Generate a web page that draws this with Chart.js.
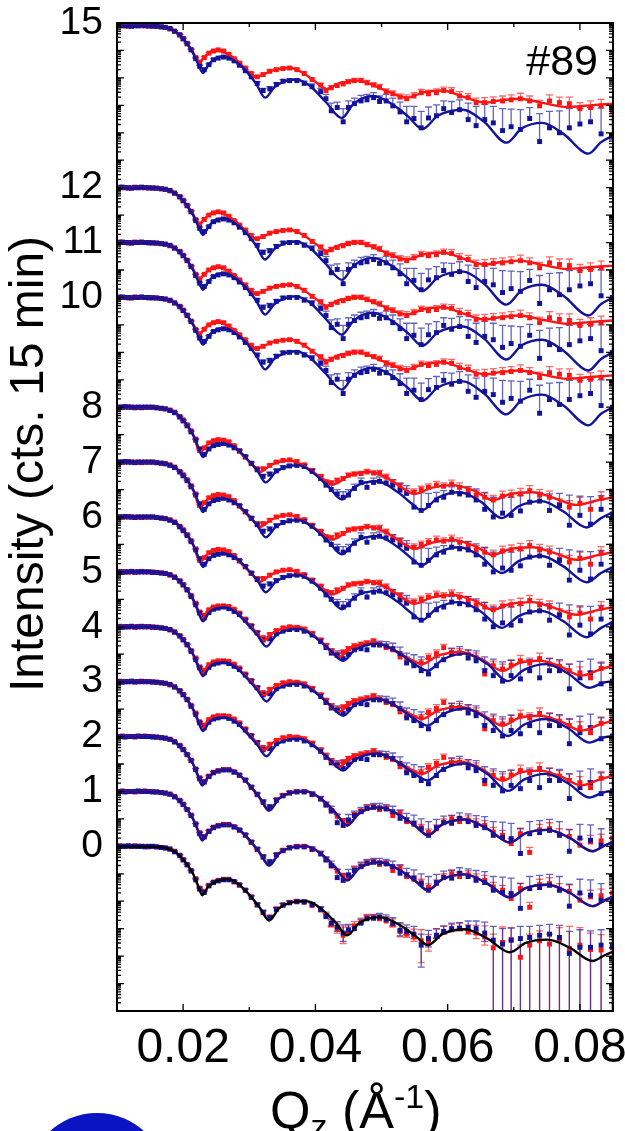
<!DOCTYPE html>
<html>
<head>
<meta charset="utf-8">
<script src="https://cdn.jsdelivr.net/npm/chart.js@4.4.1/dist/chart.umd.min.js"></script>
<style>
  html, body { margin: 0; padding: 0; background: #fff; }
  #contenedor { width: 625px; height: 1131px; }
</style>
</head>
<body>
<div id="contenedor"><canvas id="grafica" width="625" height="1131"></canvas></div>
<script>
// Vector Qz (Å^-1) común a todas las mediciones
const qz = [
  0.0100, 0.0104, 0.0108, 0.0112, 0.0117, 0.0122, 0.0127, 0.0132, 0.0137, 0.0142,
  0.0148, 0.0154, 0.0160, 0.0167, 0.0173, 0.0180, 0.0187, 0.0195, 0.0200, 0.0206,
  0.0212, 0.0219, 0.0225, 0.0232, 0.0239, 0.0246, 0.0253, 0.0261, 0.0269, 0.0277,
  0.0285, 0.0294, 0.0303, 0.0312, 0.0321, 0.0331, 0.0341, 0.0351, 0.0361, 0.0372,
  0.0383, 0.0395, 0.0408, 0.0416, 0.0424, 0.0433, 0.0442, 0.0450, 0.0459, 0.0469,
  0.0478, 0.0488, 0.0497, 0.0507, 0.0517, 0.0528, 0.0538, 0.0549, 0.0560, 0.0571,
  0.0583, 0.0594, 0.0606, 0.0618, 0.0631, 0.0643, 0.0656, 0.0669, 0.0683, 0.0696,
  0.0710, 0.0724, 0.0739, 0.0754, 0.0769, 0.0784, 0.0800, 0.0816, 0.0832, 0.0849
];

// desplazamiento vertical de cada curva y el tipo de datos que usa
const desplazamientos = [14.95, 12, 11, 10, 8, 7, 6, 5, 4, 3, 2, 1, 0];
const tiposCurva = ["A", "A", "A", "A", "B", "B", "B", "C", "C", "C", "D", "D", "E"];

const etiquetasX = [0.02, 0.04, 0.06, 0.08];
const etiquetasY = [15, 12, 11, 10, 8, 7, 6, 5, 4, 3, 2, 1, 0];

// ---- puntos medidos (log, relativo a la meseta) ----
const puntosRojoA = [
  0, 0.01, 0, 0, -0.01, 0, 0.01, 0, 0, 0,
  -0.01, 0, -0.01, -0.02, -0.03, -0.06, -0.10, -0.16, -0.23, -0.32,
  -0.43, -0.58, -0.66, -0.58, -0.50, -0.46, -0.44, -0.46, -0.52, -0.60,
  -0.68, -0.77, -0.87, -0.93, -0.89, -0.83, -0.80, -0.78, -0.77, -0.80,
  -0.87, -0.98, -1.08, -1.18, -1.13, -1.09, -1.06, -1.02, -1.00, -1.00,
  -1.04, -1.08, -1.12, -1.20, -1.24, -1.30, -1.33, -1.28, -1.22, -1.24,
  -1.22, -1.18, -1.20, -1.28, -1.31, -1.40, -1.40, -1.38, -1.37, -1.35,
  -1.33, -1.37, -1.46, -1.37, -1.40, -1.42, -1.51, -1.49, -1.46, -1.55
];
const puntosAzulA = [
  0, 0, 0.01, 0, 0, -0.01, 0, 0, 0.01, 0,
  0, -0.01, -0.01, -0.02, -0.03, -0.05, -0.10, -0.17, -0.24, -0.33,
  -0.44, -0.60, -0.74, -0.80, -0.71, -0.62, -0.59, -0.57, -0.59, -0.64,
  -0.72, -0.82, -0.93, -1.05, -1.18, -1.15, -1.07, -1.01, -1.00, -1.00,
  -1.05, -1.11, -1.20, -1.33, -1.55, -1.49, -1.75, -1.49, -1.42, -1.37,
  -1.35, -1.31, -1.38, -1.37, -1.46, -1.57, -1.75, -1.69, -1.86, -1.68,
  -1.64, -1.51, -1.58, -1.53, -1.71, -1.82, -1.71, -1.77, -1.91, -1.84,
  -1.89, -1.69, -2.11, -1.86, -1.95, -1.86, -1.79, -1.75, -1.97, -2.00
];
const puntosRojoB = [
  0, 0, 0, 0, 0.01, 0, 0, 0, -0.01, 0,
  0, 0, -0.01, -0.02, -0.03, -0.05, -0.09, -0.17, -0.23, -0.32,
  -0.43, -0.58, -0.79, -0.74, -0.65, -0.61, -0.59, -0.60, -0.63, -0.70,
  -0.79, -0.91, -1.03, -1.12, -1.12, -1.06, -1.00, -0.97, -0.96, -0.99,
  -1.05, -1.15, -1.26, -1.36, -1.38, -1.33, -1.30, -1.24, -1.22, -1.21,
  -1.18, -1.20, -1.20, -1.27, -1.38, -1.44, -1.55, -1.55, -1.50, -1.46,
  -1.42, -1.44, -1.40, -1.46, -1.52, -1.60, -1.64, -1.69, -1.62, -1.60,
  -1.58, -1.52, -1.60, -1.64, -1.77, -1.82, -1.75, -1.86, -1.66, -1.62
];
const puntosAzulB = [
  0, 0, 0, 0.01, 0, 0, -0.01, 0, 0, 0,
  0, 0, -0.01, -0.02, -0.03, -0.06, -0.10, -0.18, -0.25, -0.34,
  -0.45, -0.60, -0.76, -0.86, -0.76, -0.70, -0.68, -0.66, -0.69, -0.74,
  -0.80, -0.90, -1.02, -1.14, -1.26, -1.22, -1.16, -1.10, -1.07, -1.06,
  -1.08, -1.17, -1.30, -1.42, -1.50, -1.58, -1.64, -1.60, -1.48, -1.37,
  -1.46, -1.37, -1.35, -1.38, -1.42, -1.51, -1.57, -1.82, -1.88, -1.79,
  -1.69, -1.64, -1.55, -1.58, -1.60, -1.69, -1.86, -2.00, -1.93, -1.97,
  -1.89, -1.73, -1.71, -1.88, -1.79, -2.15, -1.97, -2.13, -1.86, -1.95
];
const puntosRojoC = [
  0, 0.01, 0, 0, 0, 0, -0.01, 0, 0.01, 0,
  0, 0, -0.01, -0.02, -0.03, -0.06, -0.09, -0.16, -0.23, -0.32,
  -0.43, -0.57, -0.73, -0.79, -0.69, -0.64, -0.62, -0.62, -0.63, -0.68,
  -0.75, -0.86, -0.98, -1.11, -1.20, -1.14, -1.07, -1.02, -1.00, -1.01,
  -1.04, -1.12, -1.24, -1.34, -1.44, -1.50, -1.46, -1.40, -1.35, -1.32,
  -1.30, -1.26, -1.33, -1.38, -1.42, -1.55, -1.62, -1.68, -1.66, -1.56,
  -1.49, -1.38, -1.47, -1.48, -1.50, -1.56, -1.86, -1.71, -1.77, -1.70,
  -1.62, -1.66, -1.58, -1.68, -1.72, -1.80, -1.84, -1.93, -1.76, -1.68
];
const puntosAzulC = [
  0, 0, -0.01, 0, 0, 0.01, 0, 0, 0, 0,
  0, -0.01, -0.01, -0.02, -0.03, -0.05, -0.10, -0.17, -0.24, -0.33,
  -0.45, -0.60, -0.75, -0.84, -0.74, -0.68, -0.66, -0.64, -0.67, -0.72,
  -0.78, -0.88, -0.99, -1.11, -1.24, -1.22, -1.13, -1.08, -1.05, -1.05,
  -1.08, -1.15, -1.27, -1.38, -1.48, -1.52, -1.58, -1.50, -1.42, -1.40,
  -1.42, -1.33, -1.33, -1.35, -1.40, -1.49, -1.66, -1.71, -1.80, -1.86,
  -1.71, -1.60, -1.49, -1.48, -1.57, -1.62, -1.80, -1.89, -1.99, -1.89,
  -1.95, -1.80, -1.93, -1.80, -1.80, -2.13, -1.93, -1.84, -2.04, -1.99
];
const puntosRojoD = [
  0, 0, 0.01, 0, 0, 0, -0.01, 0, 0, 0.01,
  0, 0, -0.01, -0.02, -0.03, -0.05, -0.09, -0.16, -0.23, -0.33,
  -0.43, -0.59, -0.75, -0.82, -0.72, -0.65, -0.62, -0.60, -0.60, -0.64,
  -0.71, -0.80, -0.93, -1.06, -1.20, -1.30, -1.15, -1.07, -1.02, -1.00,
  -1.00, -1.06, -1.13, -1.24, -1.36, -1.45, -1.53, -1.55, -1.42, -1.36,
  -1.30, -1.28, -1.33, -1.31, -1.44, -1.40, -1.55, -1.60, -1.66, -1.75,
  -1.68, -1.56, -1.50, -1.55, -1.52, -1.58, -1.62, -1.74, -1.80, -1.95,
  -1.77, -2.11, -1.70, -1.68, -1.78, -1.82, -1.98, -1.92, -1.90, -1.85
];
const puntosAzulD = [
  0, 0, 0, -0.01, 0, 0, 0, 0.01, 0, 0,
  0, -0.01, -0.01, -0.02, -0.03, -0.05, -0.10, -0.17, -0.24, -0.33,
  -0.44, -0.60, -0.77, -0.83, -0.73, -0.66, -0.63, -0.61, -0.61, -0.65,
  -0.70, -0.79, -0.92, -1.05, -1.19, -1.28, -1.16, -1.08, -1.03, -1.01,
  -1.01, -1.05, -1.14, -1.25, -1.35, -1.57, -1.62, -1.52, -1.44, -1.37,
  -1.31, -1.29, -1.30, -1.32, -1.37, -1.49, -1.52, -1.58, -1.68, -1.80,
  -1.66, -1.57, -1.58, -1.49, -1.55, -1.62, -1.66, -1.80, -1.84, -1.86,
  -2.13, -1.77, -1.75, -1.71, -1.80, -2.09, -1.85, -1.89, -1.98, -1.95
];
const puntosRojoE = [
  0, 0.01, 0, 0, 0, 0, 0.01, 0, 0, 0,
  -0.01, 0, -0.01, -0.02, -0.03, -0.05, -0.09, -0.16, -0.24, -0.33,
  -0.44, -0.59, -0.76, -0.82, -0.71, -0.65, -0.62, -0.60, -0.60, -0.65,
  -0.71, -0.80, -0.92, -1.06, -1.21, -1.29, -1.14, -1.07, -1.02, -1.00,
  -1.02, -1.08, -1.16, -1.26, -1.42, -1.50, -1.62, -1.55, -1.45, -1.38,
  -1.30, -1.30, -1.32, -1.36, -1.42, -1.55, -1.60, -1.65, -1.72, -1.76,
  -1.63, -1.56, -1.52, -1.50, -1.55, -1.58, -1.65, -1.85, -1.75, -1.70,
  -2.02, -1.80, -1.72, -1.78, -1.70, -1.86, -1.80, -1.88, -1.89, -1.85
];
const puntosAzulE = [
  0, 0, 0, 0, 0.01, 0, 0, 0, 0, -0.01,
  0, 0, -0.01, -0.02, -0.03, -0.05, -0.10, -0.17, -0.25, -0.34,
  -0.45, -0.61, -0.78, -0.84, -0.72, -0.66, -0.63, -0.61, -0.61, -0.64,
  -0.70, -0.80, -0.93, -1.07, -1.20, -1.30, -1.15, -1.07, -1.03, -1.01,
  -1.01, -1.06, -1.15, -1.28, -1.40, -1.47, -1.58, -1.52, -1.50, -1.40,
  -1.32, -1.31, -1.29, -1.33, -1.40, -1.53, -1.55, -1.60, -1.80, -1.68,
  -1.62, -1.55, -1.50, -1.49, -1.48, -1.50, -1.58, -1.71, -1.78, -1.71,
  -1.68, -1.66, -1.62, -1.60, -1.66, -1.95, -1.84, -1.84, -1.80, -1.82
];

// ---- barras de error (hacia arriba / hacia abajo) ----
const errRojo = [
  0.01, 0.01, 0.01, 0.01, 0.01, 0.01, 0.01, 0.01, 0.01, 0.01,
  0.01, 0.01, 0.01, 0.01, 0.01, 0.01, 0.01, 0.01, 0.01, 0.01,
  0.01, 0.01, 0.015, 0.015, 0.015, 0.01, 0.01, 0.015, 0.015, 0.015,
  0.015, 0.02, 0.02, 0.02, 0.025, 0.025, 0.02, 0.02, 0.02, 0.025,
  0.025, 0.03, 0.03, 0.035, 0.04, 0.035, 0.035, 0.04, 0.04, 0.04,
  0.045, 0.04, 0.05, 0.05, 0.055, 0.06, 0.07, 0.06, 0.06, 0.065,
  0.07, 0.06, 0.07, 0.08, 0.075, 0.08, 0.09, 0.085, 0.09, 0.09,
  0.10, 0.09, 0.10, 0.11, 0.10, 0.12, 0.11, 0.12, 0.12, 0.13
];
const errAzulA = [
  0.01, 0.01, 0.01, 0.01, 0.01, 0.01, 0.01, 0.01, 0.01, 0.01,
  0.01, 0.01, 0.01, 0.01, 0.01, 0.01, 0.01, 0.01, 0.01, 0.01,
  0.01, 0.015, 0.02, 0.02, 0.015, 0.015, 0.015, 0.015, 0.015, 0.02,
  0.02, 0.02, 0.025, 0.03, 0.04, 0.04, 0.03, 0.03, 0.03, 0.03,
  0.04, 0.05, 0.06, 0.08, 0.14, 0.10, 0.24, 0.12, 0.10, 0.10,
  0.10, 0.09, 0.10, 0.12, 0.14, 0.18, 0.28, 0.22, 0.30, 0.20,
  0.20, 0.14, 0.20, 0.18, 0.30, 0.35, 0.28, 0.30, 0.40, 0.32,
  0.36, 0.20, 0.51, 0.30, 0.40, 0.35, 0.28, 0.26, 0.47, 0.40
];
const errAzulB = [
  0.01, 0.01, 0.01, 0.01, 0.01, 0.01, 0.01, 0.01, 0.01, 0.01,
  0.01, 0.01, 0.01, 0.01, 0.01, 0.01, 0.01, 0.01, 0.01, 0.01,
  0.01, 0.015, 0.02, 0.02, 0.015, 0.015, 0.015, 0.015, 0.015, 0.02,
  0.02, 0.02, 0.025, 0.03, 0.035, 0.035, 0.03, 0.03, 0.03, 0.03,
  0.03, 0.04, 0.05, 0.06, 0.08, 0.08, 0.10, 0.10, 0.08, 0.08,
  0.10, 0.08, 0.08, 0.10, 0.10, 0.12, 0.14, 0.30, 0.32, 0.22,
  0.14, 0.12, 0.10, 0.14, 0.15, 0.20, 0.30, 0.36, 0.30, 0.33,
  0.28, 0.18, 0.16, 0.30, 0.22, 0.55, 0.35, 0.50, 0.25, 0.30
];
const errAzulC = [
  0.01, 0.01, 0.01, 0.01, 0.01, 0.01, 0.01, 0.01, 0.01, 0.01,
  0.01, 0.01, 0.01, 0.01, 0.01, 0.01, 0.01, 0.01, 0.01, 0.01,
  0.01, 0.015, 0.02, 0.02, 0.015, 0.015, 0.015, 0.015, 0.015, 0.02,
  0.02, 0.02, 0.025, 0.03, 0.035, 0.035, 0.03, 0.03, 0.03, 0.03,
  0.03, 0.04, 0.05, 0.06, 0.07, 0.08, 0.10, 0.08, 0.07, 0.08,
  0.10, 0.07, 0.07, 0.08, 0.10, 0.12, 0.18, 0.20, 0.25, 0.28,
  0.15, 0.10, 0.10, 0.12, 0.15, 0.18, 0.25, 0.30, 0.35, 0.28,
  0.30, 0.20, 0.30, 0.22, 0.20, 0.45, 0.30, 0.25, 0.38, 0.30
];
const errAzulD = [
  0.01, 0.01, 0.01, 0.01, 0.01, 0.01, 0.01, 0.01, 0.01, 0.01,
  0.01, 0.01, 0.01, 0.01, 0.01, 0.01, 0.01, 0.01, 0.01, 0.01,
  0.01, 0.015, 0.02, 0.02, 0.015, 0.015, 0.015, 0.015, 0.015, 0.02,
  0.02, 0.02, 0.025, 0.03, 0.035, 0.035, 0.03, 0.03, 0.03, 0.03,
  0.03, 0.04, 0.05, 0.06, 0.08, 0.15, 0.12, 0.10, 0.08, 0.08,
  0.07, 0.07, 0.08, 0.08, 0.10, 0.15, 0.12, 0.15, 0.18, 0.25,
  0.15, 0.12, 0.14, 0.10, 0.14, 0.18, 0.20, 0.25, 0.28, 0.28,
  0.45, 0.22, 0.22, 0.20, 0.25, 0.40, 0.25, 0.28, 0.30, 0.28
];
const errE = [
  0.01, 0.01, 0.01, 0.01, 0.01, 0.01, 0.01, 0.01, 0.01, 0.01,
  0.01, 0.01, 0.01, 0.01, 0.01, 0.01, 0.01, 0.01, 0.01, 0.01,
  0.01, 0.015, 0.02, 0.02, 0.015, 0.015, 0.015, 0.015, 0.015, 0.02,
  0.02, 0.02, 0.025, 0.03, 0.035, 0.035, 0.03, 0.03, 0.03, 0.03,
  0.03, 0.04, 0.05, 0.06, 0.08, 0.10, 0.15, 0.10, 0.08, 0.07,
  0.06, 0.06, 0.07, 0.08, 0.10, 0.14, 0.12, 0.14, 0.20, 0.15,
  0.12, 0.10, 0.10, 0.10, 0.12, 0.14, 0.20, 0.25, 0.28, 0.22,
  0.22, 0.20, 0.18, 0.18, 0.22, 0.40, 0.32, 0.30, 0.28, 0.30
];
// en la curva inferior las barras de Qz alto bajan fuera del eje
const bajoE = [
  0, 0, 0, 0, 0, 0, 0, 0, 0, 0,
  0, 0, 0, 0, 0, 0, 0, 0, 0, 0,
  0, 0, 0, 0, 0, 0, 0, 0, 0, 0,
  0, 0, 0, 0, 0, 0, 0, 0, 0, 0,
  0, 0, 0, 0, 0.05, 0.08, 0.15, 0.05, 0, 0,
  0, 0, 0, 0, 0.05, 0.10, 0.06, 0.08, 0.40, 0.15,
  0.05, 0.04, 0.03, 0.04, 0.05, 0.10, 0.15, 9, 9, 9,
  9, 9, 9, 9, 9, 9, 9, 9, 9, 9
];

// ---- curvas de ajuste [Qz, valor] ----
const ajusteRojoA = [
  [0.0100, 0], [0.0150, -0.005], [0.0165, -0.015], [0.0175, -0.035], [0.0185, -0.08], [0.0195, -0.17],
  [0.0205, -0.31], [0.0215, -0.48], [0.0224, -0.67], [0.0232, -0.57], [0.0240, -0.49], [0.0251, -0.45],
  [0.0265, -0.50], [0.0280, -0.62], [0.0295, -0.80], [0.0310, -0.94], [0.0322, -0.88], [0.0340, -0.80],
  [0.0362, -0.77], [0.0380, -0.85], [0.0400, -1.02], [0.0417, -1.15], [0.0435, -1.05], [0.0464, -1.00],
  [0.0500, -1.15], [0.0538, -1.31], [0.0565, -1.21], [0.0592, -1.18], [0.0625, -1.30], [0.0656, -1.40],
  [0.0680, -1.36], [0.0709, -1.33], [0.0745, -1.41], [0.0780, -1.48], [0.0815, -1.45], [0.0850, -1.42]
];
const ajusteAzulA = [
  [0.0100, 0], [0.0150, -0.005], [0.0165, -0.015], [0.0175, -0.035], [0.0185, -0.08], [0.0195, -0.17],
  [0.0205, -0.31], [0.0215, -0.50], [0.0222, -0.68], [0.0230, -0.86], [0.0238, -0.71], [0.0248, -0.60],
  [0.0260, -0.56], [0.0275, -0.62], [0.0292, -0.78], [0.0310, -1.05], [0.0324, -1.31], [0.0338, -1.12],
  [0.0355, -1.01], [0.0370, -0.98], [0.0390, -1.08], [0.0415, -1.38], [0.0440, -1.68], [0.0458, -1.42],
  [0.0487, -1.28], [0.0515, -1.42], [0.0540, -1.65], [0.0562, -1.88], [0.0585, -1.64], [0.0623, -1.53],
  [0.0655, -1.75], [0.0689, -2.13], [0.0712, -1.87], [0.0743, -1.77], [0.0775, -1.97], [0.0813, -2.33],
  [0.0832, -2.12], [0.0850, -2.00]
];
const ajusteRojoB = [
  [0.0100, 0], [0.0150, -0.005], [0.0165, -0.015], [0.0175, -0.035], [0.0185, -0.08], [0.0195, -0.17],
  [0.0205, -0.31], [0.0215, -0.50], [0.0226, -0.82], [0.0234, -0.71], [0.0245, -0.62], [0.0256, -0.60],
  [0.0270, -0.65], [0.0288, -0.85], [0.0305, -1.05], [0.0316, -1.18], [0.0333, -1.05], [0.0350, -0.98],
  [0.0361, -0.97], [0.0380, -1.05], [0.0405, -1.25], [0.0428, -1.40], [0.0450, -1.25], [0.0482, -1.18],
  [0.0510, -1.30], [0.0535, -1.50], [0.0550, -1.58], [0.0575, -1.47], [0.0606, -1.42], [0.0640, -1.52],
  [0.0668, -1.69], [0.0695, -1.58], [0.0728, -1.55], [0.0760, -1.65], [0.0795, -1.78], [0.0825, -1.70],
  [0.0850, -1.64]
];
const ajusteAzulB = [
  [0.0100, 0], [0.0150, -0.005], [0.0165, -0.015], [0.0175, -0.035], [0.0185, -0.08], [0.0195, -0.17],
  [0.0205, -0.31], [0.0215, -0.50], [0.0222, -0.70], [0.0230, -0.91], [0.0238, -0.77], [0.0250, -0.68],
  [0.0263, -0.67], [0.0278, -0.73], [0.0295, -0.92], [0.0312, -1.15], [0.0325, -1.37], [0.0340, -1.18],
  [0.0358, -1.08], [0.0375, -1.06], [0.0395, -1.18], [0.0420, -1.45], [0.0440, -1.68], [0.0460, -1.45],
  [0.0493, -1.35], [0.0525, -1.55], [0.0545, -1.75], [0.0561, -1.88], [0.0585, -1.65], [0.0618, -1.55],
  [0.0650, -1.72], [0.0682, -2.02], [0.0708, -1.80], [0.0742, -1.71], [0.0775, -1.90], [0.0810, -2.19],
  [0.0832, -2.02], [0.0850, -1.91]
];
const ajusteRojoC = [
  [0.0100, 0], [0.0150, -0.005], [0.0165, -0.015], [0.0175, -0.035], [0.0185, -0.08], [0.0195, -0.17],
  [0.0205, -0.31], [0.0215, -0.50], [0.0222, -0.68], [0.0229, -0.85], [0.0237, -0.72], [0.0250, -0.63],
  [0.0260, -0.62], [0.0275, -0.68], [0.0295, -0.90], [0.0312, -1.12], [0.0322, -1.25], [0.0337, -1.10],
  [0.0355, -1.02], [0.0372, -1.00], [0.0392, -1.10], [0.0415, -1.35], [0.0435, -1.55], [0.0455, -1.38],
  [0.0490, -1.29], [0.0520, -1.43], [0.0545, -1.60], [0.0561, -1.68], [0.0585, -1.53], [0.0618, -1.46],
  [0.0650, -1.58], [0.0683, -1.80], [0.0708, -1.66], [0.0739, -1.62], [0.0770, -1.72], [0.0802, -1.89],
  [0.0830, -1.78], [0.0850, -1.71]
];
const ajusteAzulC = [
  [0.0100, 0], [0.0150, -0.005], [0.0165, -0.015], [0.0175, -0.035], [0.0185, -0.08], [0.0195, -0.17],
  [0.0205, -0.31], [0.0215, -0.50], [0.0222, -0.70], [0.0230, -0.90], [0.0238, -0.76], [0.0250, -0.66],
  [0.0262, -0.65], [0.0278, -0.72], [0.0295, -0.92], [0.0312, -1.15], [0.0326, -1.36], [0.0340, -1.16],
  [0.0358, -1.06], [0.0376, -1.04], [0.0395, -1.15], [0.0420, -1.40], [0.0442, -1.62], [0.0460, -1.42],
  [0.0494, -1.31], [0.0525, -1.47], [0.0550, -1.68], [0.0570, -1.80], [0.0592, -1.60], [0.0626, -1.49],
  [0.0660, -1.68], [0.0691, -1.99], [0.0716, -1.78], [0.0749, -1.68], [0.0782, -1.85], [0.0814, -2.11],
  [0.0835, -2.02], [0.0850, -1.99]
];
const ajusteD = [
  [0.0100, 0], [0.0150, -0.005], [0.0165, -0.015], [0.0175, -0.035], [0.0185, -0.08], [0.0195, -0.17],
  [0.0205, -0.31], [0.0215, -0.50], [0.0222, -0.70], [0.0229, -0.89], [0.0237, -0.75], [0.0250, -0.64],
  [0.0266, -0.60], [0.0283, -0.68], [0.0300, -0.88], [0.0316, -1.12], [0.0330, -1.35], [0.0345, -1.13],
  [0.0365, -1.02], [0.0387, -1.00], [0.0408, -1.13], [0.0430, -1.38], [0.0448, -1.62], [0.0466, -1.40],
  [0.0497, -1.29], [0.0530, -1.45], [0.0552, -1.64], [0.0570, -1.80], [0.0592, -1.60], [0.0626, -1.51],
  [0.0660, -1.68], [0.0694, -1.93], [0.0718, -1.76], [0.0751, -1.70], [0.0785, -1.85], [0.0819, -2.09],
  [0.0838, -1.98], [0.0850, -1.92]
];

// colores
const colorRojo = "#ff1414";
const colorAzul = "#12129a";
const colorBarraRojo = "rgba(255, 40, 40, 0.7)";
const colorBarraAzul = "rgba(25, 25, 165, 0.68)";
const fuente = "'Liberation Sans', Arial, Helvetica, sans-serif";

// tabla por tipo de curva
const tablaTipos = {
  A: { pr: puntosRojoA, pa: puntosAzulA, er: errRojo, ea: errAzulA, br: null, ba: null, ar: ajusteRojoA, aa: ajusteAzulA, an: null },
  B: { pr: puntosRojoB, pa: puntosAzulB, er: errRojo, ea: errAzulB, br: null, ba: null, ar: ajusteRojoB, aa: ajusteAzulB, an: null },
  C: { pr: puntosRojoC, pa: puntosAzulC, er: errRojo, ea: errAzulC, br: null, ba: null, ar: ajusteRojoC, aa: ajusteAzulC, an: null },
  D: { pr: puntosRojoD, pa: puntosAzulD, er: errRojo, ea: errAzulD, br: null, ba: null, ar: ajusteD, aa: ajusteD, an: null },
  E: { pr: puntosRojoE, pa: puntosAzulE, er: errE, ea: errE, br: bajoE, ba: bajoE, ar: null, aa: null, an: ajusteD }
};

// armando los datasets de cada curva desplazada
const datasets = [];
desplazamientos.forEach((off, c) => {
  const t = tablaTipos[tiposCurva[c]];
  datasets.push({
    data: qz.map((q, i) => ({ x: q, y: off + t.pr[i] })),
    pointStyle: "rect", pointRadius: 3.5, backgroundColor: colorRojo, borderWidth: 0, order: 4
  });
  datasets.push({
    data: qz.map((q, i) => ({ x: q, y: off + t.pa[i] })),
    pointStyle: "rect", pointRadius: 3.5, backgroundColor: colorAzul, borderWidth: 0, order: 3
  });
  const linea = (nodos, color, orden) => ({
    data: nodos.map(([q, v]) => ({ x: q, y: off + v })),
    showLine: true, pointRadius: 0, borderColor: color, borderWidth: 2.4,
    cubicInterpolationMode: "monotone", fill: false, order: orden
  });
  if (t.ar) datasets.push(linea(t.ar, colorRojo, 2));
  if (t.aa) datasets.push(linea(t.aa, colorAzul, 1));
  if (t.an) datasets.push(linea(t.an, "#000000", 0));
});

function barras(ctx, xs, ys, off, puntos, arriba, abajo, color) {
  ctx.strokeStyle = color;
  ctx.beginPath();
  for (let i = 0; i < qz.length; i++) {
    const px = xs.getPixelForValue(qz[i]);
    const v = off + puntos[i];
    const yArr = ys.getPixelForValue(v + arriba[i]);
    const yAba = ys.getPixelForValue(v - (abajo ? abajo[i] : 0));
    ctx.moveTo(px, yArr); ctx.lineTo(px, yAba);
    ctx.moveTo(px - 3.5, yArr); ctx.lineTo(px + 3.5, yArr);
    if (abajo && abajo[i] > 0) { ctx.moveTo(px - 3.5, yAba); ctx.lineTo(px + 3.5, yAba); }
  }
  ctx.stroke();
}

function raya(ctx, x1, y1, x2, y2) {
  ctx.moveTo(x1, y1); ctx.lineTo(x2, y2);
}

const marcoYBarras = {
  id: "marcoYBarras",
  beforeDatasetsDraw(chart) {
    const { ctx, chartArea: a, scales: { x, y } } = chart;
    ctx.save();
    ctx.beginPath();
    ctx.rect(a.left, a.top, a.right - a.left, a.bottom - a.top);
    ctx.clip();
    ctx.lineWidth = 1.3;
    desplazamientos.forEach((off, c) => {
      const t = tablaTipos[tiposCurva[c]];
      barras(ctx, x, y, off, t.pr, t.er, t.br, colorBarraRojo);
      barras(ctx, x, y, off, t.pa, t.ea, t.ba, colorBarraAzul);
    });
    ctx.restore();
  },
  afterDraw(chart) {
    const { ctx, chartArea: a, scales: { x, y } } = chart;
    ctx.save();
    // marcas del eje Y (décadas y subdivisiones logarítmicas)
    ctx.strokeStyle = "#000";
    ctx.lineWidth = 1.3;
    ctx.beginPath();
    for (let d = -3; d <= 15; d += 0.5) {
      const py = y.getPixelForValue(d);
      raya(ctx, a.left, py, a.left + 7, py);
      raya(ctx, a.right, py, a.right - 7, py);
      if (d < 15) {
        for (let k = 2; k <= 9; k++) {
          const pm = y.getPixelForValue(d + 0.5 * Math.log10(k));
          raya(ctx, a.left, pm, a.left + 4, pm);
          raya(ctx, a.right, pm, a.right - 4, pm);
        }
      }
    }
    // marcas del eje X
    for (let i = 2; i <= 8; i++) {
      const px = x.getPixelForValue(i / 100);
      const largo = i % 2 === 0 ? 7 : 4;
      raya(ctx, px, a.bottom, px, a.bottom - largo);
      raya(ctx, px, a.top, px, a.top + largo);
    }
    ctx.stroke();
    // marco
    ctx.lineWidth = 2;
    ctx.strokeRect(a.left, a.top, a.right - a.left, a.bottom - a.top);

    // textos
    ctx.fillStyle = "#000";
    ctx.font = "43px " + fuente;
    ctx.textAlign = "right";
    ctx.textBaseline = "alphabetic";
    ctx.fillText("#89", 598, 75);

    ctx.save();
    ctx.translate(43, 464);
    ctx.rotate(-Math.PI / 2);
    ctx.font = "48px " + fuente;
    ctx.textAlign = "center";
    ctx.fillText("Intensity (cts. 15 min)", 0, 0);
    ctx.restore();

    // titulo X con subíndice y superíndice
    ctx.textAlign = "left";
    let cx = 270;
    const base = 1128;
    const trozos = [
      ["Q", 52, 0], ["z", 34, 10], [" (Å", 52, 0], ["-1", 34, -20], [")", 52, 0]
    ];
    trozos.forEach(([txt, tam, dy]) => {
      ctx.font = tam + "px " + fuente;
      ctx.fillText(txt, cx, base + dy);
      cx += ctx.measureText(txt).width;
    });

    // círculo azul de la esquina
    ctx.beginPath();
    ctx.arc(97, 1183, 70, 0, Math.PI * 2);
    ctx.fillStyle = "#0a14c2";
    ctx.fill();
    ctx.restore();
  }
};

new Chart(document.getElementById("grafica"), {
  type: "scatter",
  data: { datasets },
  options: {
    responsive: false,
    animation: false,
    devicePixelRatio: 1,
    layout: { padding: { left: 0, right: 12, top: 23, bottom: 0 } },
    plugins: { legend: { display: false }, tooltip: { enabled: false } },
    scales: {
      x: {
        type: "linear", min: 0.01, max: 0.085,
        afterBuildTicks: (s) => { s.ticks = etiquetasX.map((v) => ({ value: v })); },
        afterFit: (s) => { s.height = 120; s.paddingLeft = 0; s.paddingRight = 0; },
        ticks: {
          font: { family: fuente, size: 48 }, color: "#000", padding: 9,
          autoSkip: false, maxRotation: 0, callback: (v) => v.toFixed(2)
        },
        grid: { display: false, drawTicks: false },
        border: { display: false }
      },
      y: {
        type: "linear", min: -3, max: 15,
        afterBuildTicks: (s) => { s.ticks = etiquetasY.map((v) => ({ value: v })); },
        afterFit: (s) => { s.width = 117; s.paddingTop = 0; s.paddingBottom = 0; },
        ticks: {
          font: { family: fuente, size: 39 }, color: "#000", padding: 14,
          autoSkip: false, callback: (v) => String(v)
        },
        grid: { display: false, drawTicks: false },
        border: { display: false }
      }
    }
  },
  plugins: [marcoYBarras]
});
</script>
</body>
</html>
